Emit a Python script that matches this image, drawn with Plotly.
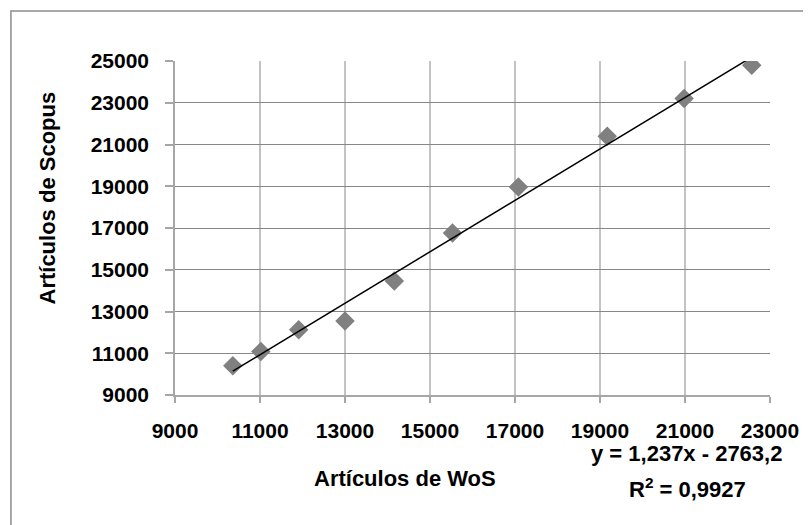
import numpy as np
import plotly.graph_objects as go

# Data
wos = [10360, 11020, 11910, 13000, 14160, 15530, 17080, 19170, 20980, 22570]
scopus = [10400, 11080, 12120, 12540, 14460, 16760, 18970, 21400, 23200, 24800]
x_ticks = [9000, 11000, 13000, 15000, 17000, 19000, 21000, 23000]
y_ticks = [9000, 11000, 13000, 15000, 17000, 19000, 21000, 23000, 25000]
eq_text = "y = 1,237x - 2763,2"
r2_text = "R<sup>2</sup> = 0,9927"
x_title = "Artículos de WoS"
y_title = "Artículos de Scopus"

slope, intercept = np.polyfit(wos, scopus, 1)
tx = [min(wos), max(wos)]
ty = [slope * v + intercept for v in tx]

FONT = "Liberation Sans, Arial, sans-serif"
GRID = "#878787"
AXIS = "#a6a6a6"

# plot area in screen pixels (page has an 8px body margin)
PL, PR, PT, PB = 175, 777, 61, 395
PW, PH = PR - PL, PB - PT


def px(x):
    return (x - PL) / PW


def py(y):
    return (PB - y) / PH


fig = go.Figure()
fig.add_trace(go.Scatter(
    x=wos, y=scopus, mode="markers",
    marker=dict(symbol="diamond", size=15, color="#808080", line=dict(width=0)),
    showlegend=False, hoverinfo="x+y"))
fig.add_trace(go.Scatter(
    x=tx, y=ty, mode="lines", line=dict(color="black", width=1.5),
    showlegend=False, hoverinfo="skip"))

# vertical gridlines (none on the right border)
for v in x_ticks[1:-1]:
    fig.add_shape(type="line", xref="x", yref="paper", x0=v, x1=v, y0=0, y1=1,
                  line=dict(color=GRID, width=1), layer="below")

# chart border (top and left visible)
fig.add_shape(type="rect", xref="paper", yref="paper",
              x0=px(9), x1=px(830), y0=py(545), y1=py(11),
              line=dict(color="#8c8c8c", width=1.5), layer="below")

fig.update_layout(
    width=803, height=517,
    margin=dict(l=PL - 8, r=811 - PR, t=PT - 8, b=525 - PB),
    paper_bgcolor="white", plot_bgcolor="white",
    font=dict(family=FONT, color="black", size=21, weight="bold"),
    xaxis=dict(range=[9000, 23000], tickvals=x_ticks, ticktext=[str(v) for v in x_ticks],
               showgrid=False, showline=True, linecolor=AXIS, linewidth=1.5,
               ticks="outside", ticklen=6, tickcolor=AXIS, tickwidth=1.5,
               tickfont=dict(family=FONT, size=21, weight="bold"),
               ticklabelstandoff=10, zeroline=False),
    yaxis=dict(range=[9000, 25000], tickvals=y_ticks, ticktext=[str(v) for v in y_ticks],
               showgrid=True, gridcolor=GRID, gridwidth=1,
               showline=True, linecolor=AXIS, linewidth=1.5,
               ticks="outside", ticklen=8, tickcolor=AXIS, tickwidth=1.5,
               tickfont=dict(family=FONT, size=21, weight="bold"),
               ticklabelstandoff=12, zeroline=False),
    annotations=[
        dict(text=x_title, xref="paper", yref="paper", x=px(408), y=py(478),
             showarrow=False, font=dict(family=FONT, size=22, weight="bold"),
             xanchor="center", yanchor="middle"),
        dict(text=y_title, xref="paper", yref="paper", x=px(45), y=py(198),
             showarrow=False, textangle=-90, font=dict(family=FONT, size=22, weight="bold"),
             xanchor="center", yanchor="middle"),
        dict(text=eq_text, xref="paper", yref="paper", x=px(693), y=py(453),
             showarrow=False, font=dict(family=FONT, size=22, weight="bold"),
             xanchor="center", yanchor="middle"),
        dict(text=r2_text, xref="paper", yref="paper", x=px(694), y=py(488),
             showarrow=False, font=dict(family=FONT, size=22, weight="bold"),
             xanchor="center", yanchor="middle"),
    ],
)

fig.write_html("out.html")
